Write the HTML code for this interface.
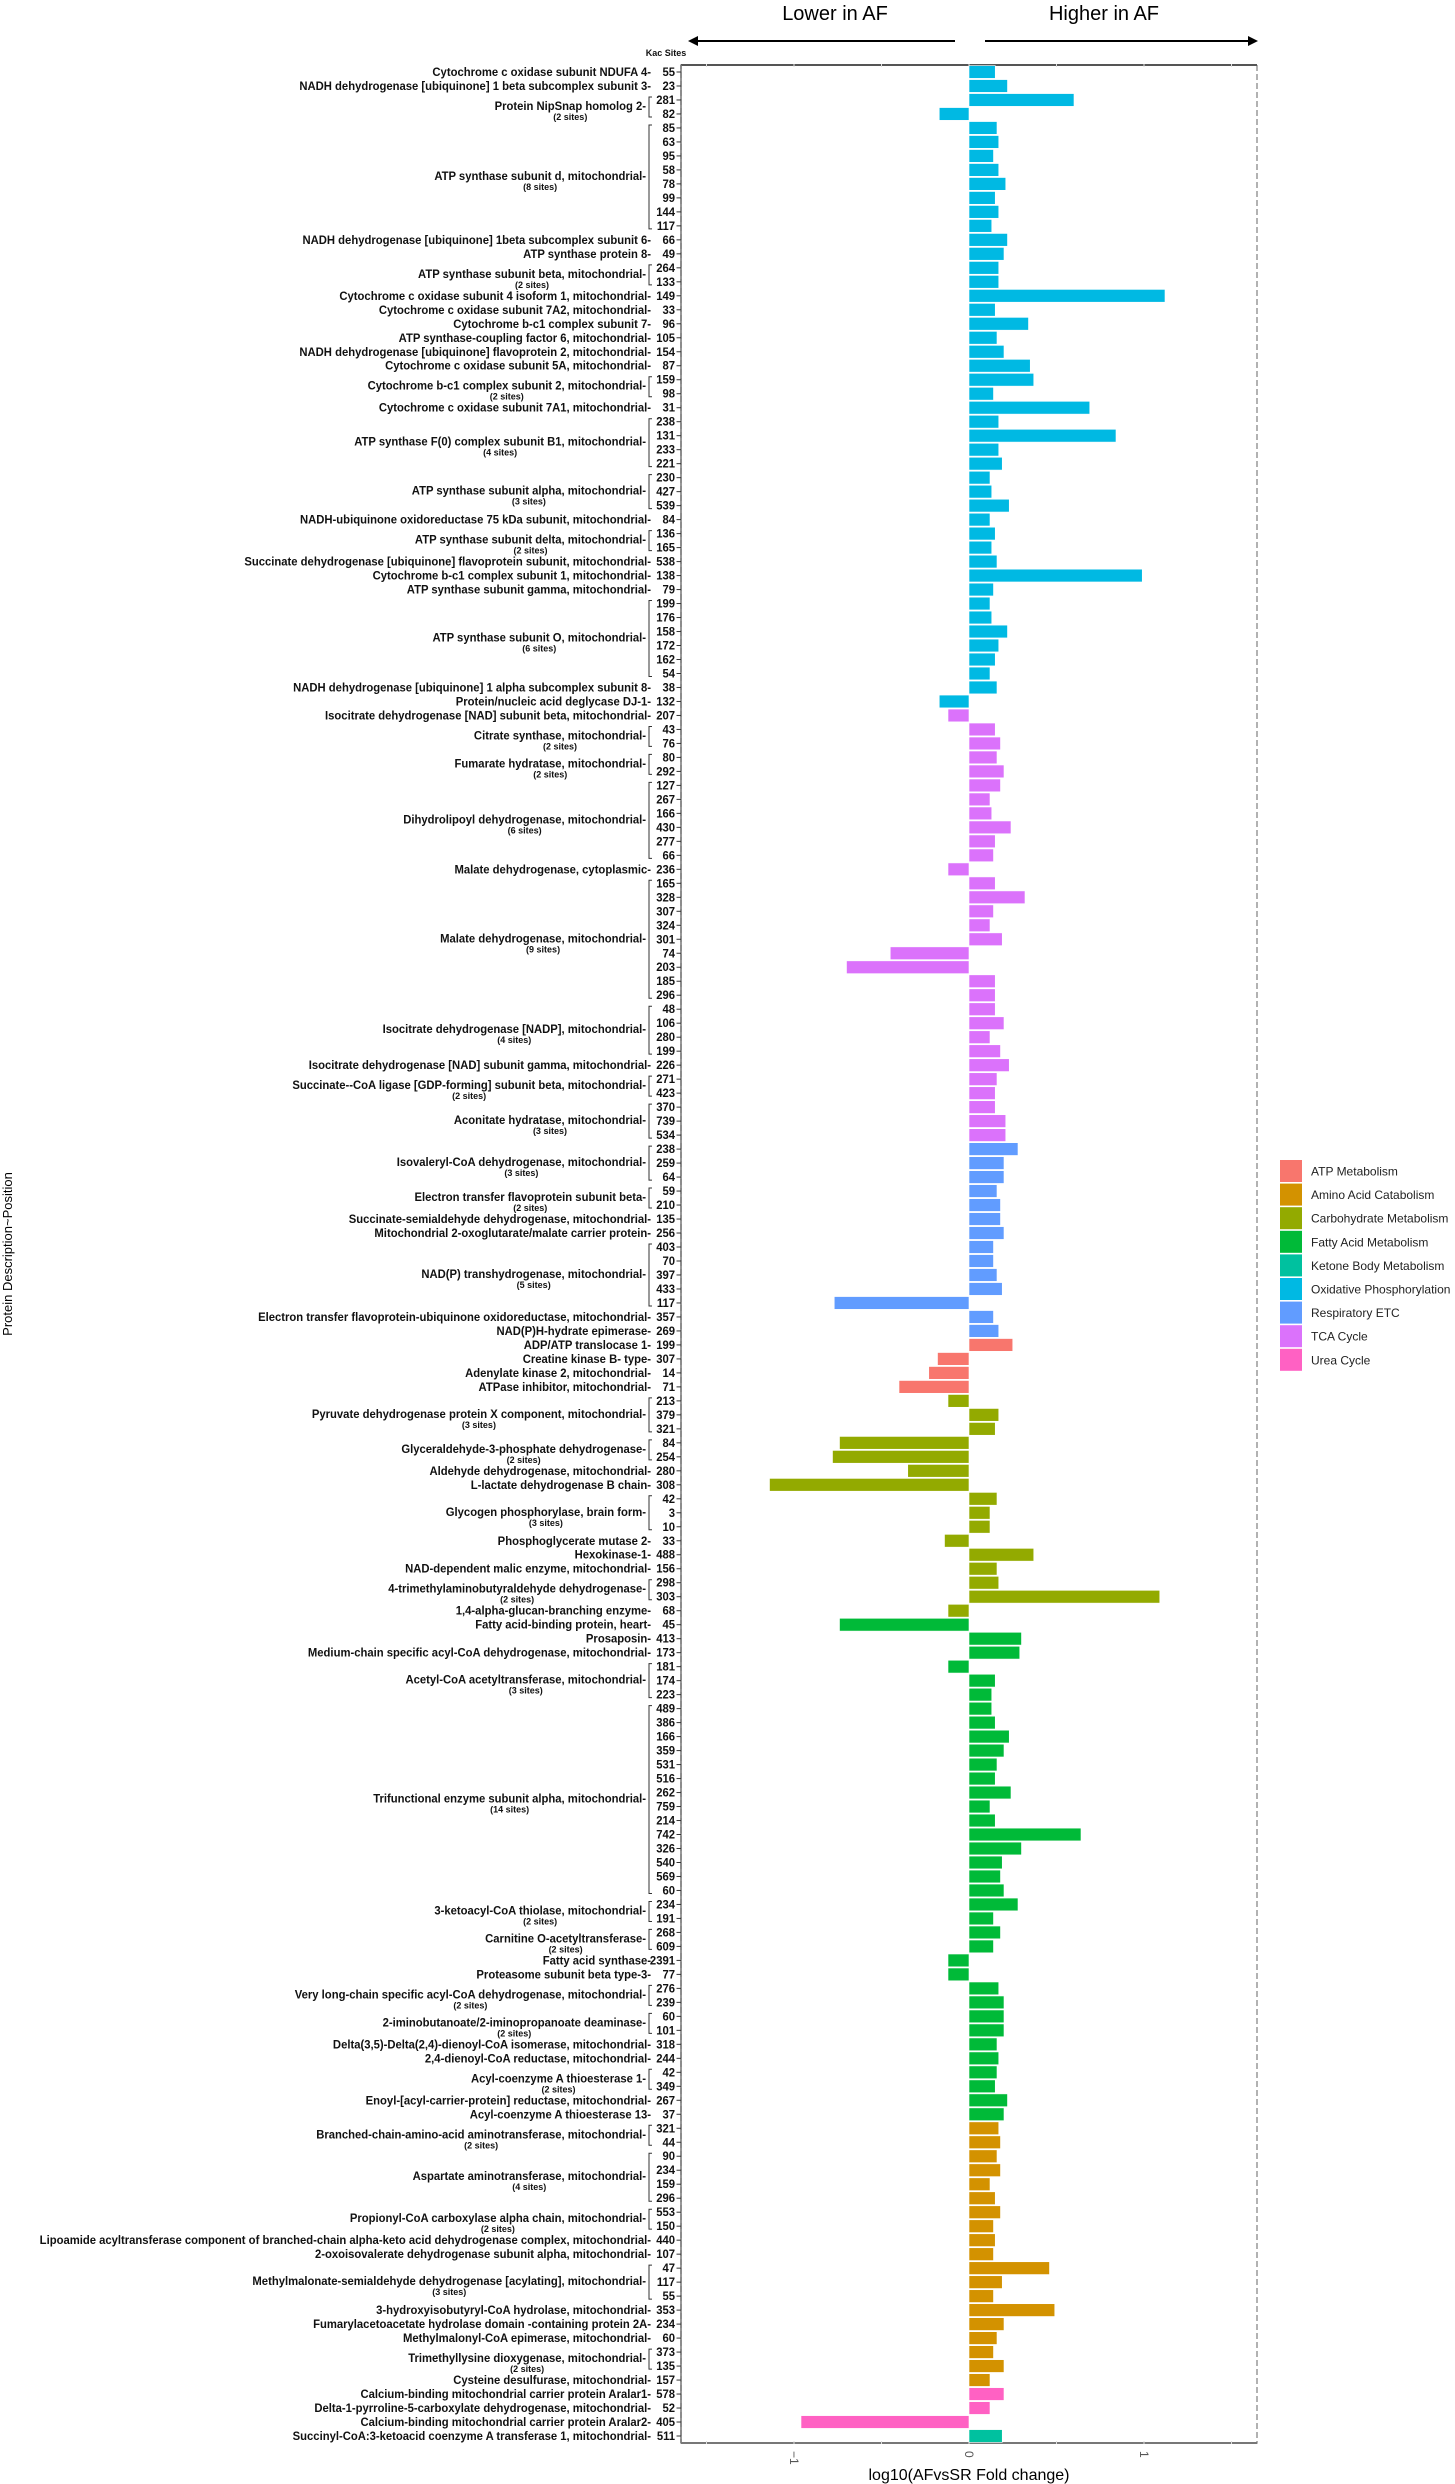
<!DOCTYPE html>
<html><head><meta charset="utf-8">
<style>
html,body{margin:0;padding:0;background:#fff;}
svg{display:block;}
.lab{font-family:"Liberation Sans",sans-serif;font-weight:bold;font-size:12px;fill:#111;}
.sub{font-family:"Liberation Sans",sans-serif;font-weight:bold;font-size:9px;fill:#111;}
.leg{font-family:"Liberation Sans",sans-serif;font-size:12px;fill:#222;}
</style></head>
<body>
<svg id="chart" width="1455" height="2484" viewBox="0 0 1455 2484" xmlns="http://www.w3.org/2000/svg">
<text x="835" y="20" text-anchor="middle" font-family="Liberation Sans, sans-serif" font-size="20">Lower in AF</text>
<text x="1104" y="20" text-anchor="middle" font-family="Liberation Sans, sans-serif" font-size="20">Higher in AF</text>
<g><line x1="955" y1="41" x2="694" y2="41" stroke="#000" stroke-width="2"/><polygon points="688,41 698,36 698,46" fill="#000"/></g>
<g><line x1="985" y1="41" x2="1252" y2="41" stroke="#000" stroke-width="2"/><polygon points="1258,41 1248,36 1248,46" fill="#000"/></g>
<text x="666" y="56" text-anchor="middle" class="sub" font-size="10">Kac Sites</text>
<text transform="translate(12,1254) rotate(-90)" text-anchor="middle" font-family="Liberation Sans, sans-serif" font-size="13">Protein Description~Position</text>
<text x="969" y="2480" text-anchor="middle" font-family="Liberation Sans, sans-serif" font-size="16">log10(AFvsSR Fold change)</text>
<g id="plot"></g>
<g id="legend"></g>
</svg>
<script>
const categories=["ATP Metabolism","Amino Acid Catabolism","Carbohydrate Metabolism","Fatty Acid Metabolism","Ketone Body Metabolism","Oxidative Phosphorylation","Respiratory ETC","TCA Cycle","Urea Cycle"];
const catColors=["#F8766D","#D39200","#93AA00","#00BA38","#00C19F","#00B9E3","#619CFF","#DB72FB","#FF61C3"];
const xTicks=[-1,0,1];
const groupNames=[
"Cytochrome c oxidase subunit NDUFA 4","NADH dehydrogenase [ubiquinone] 1 beta subcomplex subunit 3","Protein NipSnap homolog 2","ATP synthase subunit d, mitochondrial","NADH dehydrogenase [ubiquinone] 1beta subcomplex subunit 6","ATP synthase protein 8","ATP synthase subunit beta, mitochondrial","Cytochrome c oxidase subunit 4 isoform 1, mitochondrial","Cytochrome c oxidase subunit 7A2, mitochondrial","Cytochrome b-c1 complex subunit 7","ATP synthase-coupling factor 6, mitochondrial","NADH dehydrogenase [ubiquinone] flavoprotein 2, mitochondrial","Cytochrome c oxidase subunit 5A, mitochondrial","Cytochrome b-c1 complex subunit 2, mitochondrial","Cytochrome c oxidase subunit 7A1, mitochondrial","ATP synthase F(0) complex subunit B1, mitochondrial","ATP synthase subunit alpha, mitochondrial","NADH-ubiquinone oxidoreductase 75 kDa subunit, mitochondrial","ATP synthase subunit delta, mitochondrial","Succinate dehydrogenase [ubiquinone] flavoprotein subunit, mitochondrial","Cytochrome b-c1 complex subunit 1, mitochondrial","ATP synthase subunit gamma, mitochondrial","ATP synthase subunit O, mitochondrial","NADH dehydrogenase [ubiquinone] 1 alpha subcomplex subunit 8","Protein/nucleic acid deglycase DJ-1",
"Isocitrate dehydrogenase [NAD] subunit beta, mitochondrial","Citrate synthase, mitochondrial","Fumarate hydratase, mitochondrial","Dihydrolipoyl dehydrogenase, mitochondrial","Malate dehydrogenase, cytoplasmic","Malate dehydrogenase, mitochondrial","Isocitrate dehydrogenase [NADP], mitochondrial","Isocitrate dehydrogenase [NAD] subunit gamma, mitochondrial","Succinate--CoA ligase [GDP-forming] subunit beta, mitochondrial","Aconitate hydratase, mitochondrial",
"Isovaleryl-CoA dehydrogenase, mitochondrial","Electron transfer flavoprotein subunit beta","Succinate-semialdehyde dehydrogenase, mitochondrial","Mitochondrial 2-oxoglutarate/malate carrier protein","NAD(P) transhydrogenase, mitochondrial","Electron transfer flavoprotein-ubiquinone oxidoreductase, mitochondrial","NAD(P)H-hydrate epimerase",
"ADP/ATP translocase 1","Creatine kinase B- type","Adenylate kinase 2, mitochondrial","ATPase inhibitor, mitochondrial",
"Pyruvate dehydrogenase protein X component, mitochondrial","Glyceraldehyde-3-phosphate dehydrogenase","Aldehyde dehydrogenase, mitochondrial","L-lactate dehydrogenase B chain","Glycogen phosphorylase, brain form","Phosphoglycerate mutase 2","Hexokinase-1","NAD-dependent malic enzyme, mitochondrial","4-trimethylaminobutyraldehyde dehydrogenase","1,4-alpha-glucan-branching enzyme",
"Fatty acid-binding protein, heart","Prosaposin","Medium-chain specific acyl-CoA dehydrogenase, mitochondrial","Acetyl-CoA acetyltransferase, mitochondrial","Trifunctional enzyme subunit alpha, mitochondrial","3-ketoacyl-CoA thiolase, mitochondrial","Carnitine O-acetyltransferase","Fatty acid synthase","Proteasome subunit beta type-3","Very long-chain specific acyl-CoA dehydrogenase, mitochondrial","2-iminobutanoate/2-iminopropanoate deaminase","Delta(3,5)-Delta(2,4)-dienoyl-CoA isomerase, mitochondrial","2,4-dienoyl-CoA reductase, mitochondrial","Acyl-coenzyme A thioesterase 1","Enoyl-[acyl-carrier-protein] reductase, mitochondrial","Acyl-coenzyme A thioesterase 13",
"Branched-chain-amino-acid aminotransferase, mitochondrial","Aspartate aminotransferase, mitochondrial","Propionyl-CoA carboxylase alpha chain, mitochondrial","Lipoamide acyltransferase component of branched-chain alpha-keto acid dehydrogenase complex, mitochondrial","2-oxoisovalerate dehydrogenase subunit alpha, mitochondrial","Methylmalonate-semialdehyde dehydrogenase [acylating], mitochondrial","3-hydroxyisobutyryl-CoA hydrolase, mitochondrial","Fumarylacetoacetate hydrolase domain -containing protein 2A","Methylmalonyl-CoA epimerase, mitochondrial","Trimethyllysine dioxygenase, mitochondrial","Cysteine desulfurase, mitochondrial",
"Calcium-binding mitochondrial carrier protein Aralar1","Delta-1-pyrroline-5-carboxylate dehydrogenase, mitochondrial","Calcium-binding mitochondrial carrier protein Aralar2","Succinyl-CoA:3-ketoacid coenzyme A transferase 1, mitochondrial"];
const groupSites=[
[55],[23],[281,82],[85,63,95,58,78,99,144,117],[66],[49],[264,133],[149],[33],[96],[105],[154],[87],[159,98],[31],[238,131,233,221],[230,427,539],[84],[136,165],[538],[138],[79],[199,176,158,172,162,54],[38],[132],
[207],[43,76],[80,292],[127,267,166,430,277,66],[236],[165,328,307,324,301,74,203,185,296],[48,106,280,199],[226],[271,423],[370,739,534],
[238,259,64],[59,210],[135],[256],[403,70,397,433,117],[357],[269],
[199],[307],[14],[71],
[213,379,321],[84,254],[280],[308],[42,3,10],[33],[488],[156],[298,303],[68],
[45],[413],[173],[181,174,223],[489,386,166,359,531,516,262,759,214,742,326,540,569,60],[234,191],[268,609],[2391],[77],[276,239],[60,101],[318],[244],[42,349],[267],[37],
[321,44],[90,234,159,296],[553,150],[440],[107],[47,117,55],[353],[234],[60],[373,135],[157],
[578],[52],[405],[511]];
const groupValues=[
[0.15],[0.22],[0.6,-0.17],[0.16,0.17,0.14,0.17,0.21,0.15,0.17,0.13],[0.22],[0.2],[0.17,0.17],[1.12],[0.15],[0.34],[0.16],[0.2],[0.35],[0.37,0.14],[0.69],[0.17,0.84,0.17,0.19],[0.12,0.13,0.23],[0.12],[0.15,0.13],[0.16],[0.99],[0.14],[0.12,0.13,0.22,0.17,0.15,0.12],[0.16],[-0.17],
[-0.12],[0.15,0.18],[0.16,0.2],[0.18,0.12,0.13,0.24,0.15,0.14],[-0.12],[0.15,0.32,0.14,0.12,0.19,-0.45,-0.7,0.15,0.15],[0.15,0.2,0.12,0.18],[0.23],[0.16,0.15],[0.15,0.21,0.21],
[0.28,0.2,0.2],[0.16,0.18],[0.18],[0.2],[0.14,0.14,0.16,0.19,-0.77],[0.14],[0.17],
[0.25],[-0.18],[-0.23],[-0.4],
[-0.12,0.17,0.15],[-0.74,-0.78],[-0.35],[-1.14],[0.16,0.12,0.12],[-0.14],[0.37],[0.16],[0.17,1.09],[-0.12],
[-0.74],[0.3],[0.29],[-0.12,0.15,0.13],[0.13,0.15,0.23,0.2,0.16,0.15,0.24,0.12,0.15,0.64,0.3,0.19,0.18,0.2],[0.28,0.14],[0.18,0.14],[-0.12],[-0.12],[0.17,0.2],[0.2,0.2],[0.16],[0.17],[0.16,0.15],[0.22],[0.2],
[0.17,0.18],[0.16,0.18,0.12,0.15],[0.18,0.14],[0.15],[0.14],[0.46,0.19,0.14],[0.49],[0.2],[0.16],[0.14,0.2],[0.12],
[0.2],[0.12],[-0.96],[0.19]];
const groupCats=[5,5,5,5,5,5,5,5,5,5,5,5,5,5,5,5,5,5,5,5,5,5,5,5,5,
7,7,7,7,7,7,7,7,7,7,
6,6,6,6,6,6,6,
0,0,0,0,
2,2,2,2,2,2,2,2,2,2,
3,3,3,3,3,3,3,3,3,3,3,3,3,3,3,3,
1,1,1,1,1,1,1,1,1,1,1,
8,8,8,4];

const NS="http://www.w3.org/2000/svg";
const PL=681,PR=1257,PT=65,PB=2443,X0=969,UNIT=175,SQ=0.94;
const nRows=groupSites.reduce((a,s)=>a+s.length,0);
const step=(PB-PT)/nRows;
function xScale(v){return X0+v*UNIT;}
function yScale(i){return PT+step*(i+0.5);}
function mk(tag,attrs,parent){const e=document.createElementNS(NS,tag);for(const k in attrs)e.setAttribute(k,attrs[k]);parent.appendChild(e);return e;}
const plot=document.getElementById('plot');

const border=mk('rect',{x:PL,y:PT,width:PR-PL,height:PB-PT,fill:'#fff',stroke:'#999','stroke-width':1.5,'stroke-dasharray':'6 3'},plot);


const topLine=mk('line',{x1:PL,y1:PT,x2:PR,y2:PT,stroke:'#555','stroke-width':2},plot);


const botLine=mk('line',{x1:PL,y1:PB,x2:PR,y2:PB,stroke:'#777','stroke-width':2},plot);


const leftLine=mk('line',{x1:PL,y1:PT,x2:PL,y2:PB,stroke:'#777','stroke-width':1.5},plot);


for(let t=-1.5;t<=1.51;t+=0.5){
  const gx=xScale(t);
  mk('line',{x1:gx,y1:PT-1,x2:gx,y2:PT+2,stroke:'#ddd','stroke-width':1},plot);
  mk('line',{x1:gx,y1:PB-2,x2:gx,y2:PB+1,stroke:'#ddd','stroke-width':1},plot);
}
xTicks.forEach(t=>{
  const tx=xScale(t);
  const tk=mk('text',{transform:`translate(${tx-4},2451) rotate(90)`,'font-family':'Liberation Sans, sans-serif','font-size':12,fill:'#555'},plot);
  tk.textContent=t<0?'\u22121':String(t);
  
  
});

function sqText(x,y,cls,txt,parent){
  const t=mk('text',{transform:`translate(${x},${y}) scale(${SQ},1)`,x:0,y:0,'text-anchor':'end',class:cls},parent);
  t.textContent=txt;
  return t;
}

let row=0;
groupNames.forEach((name,g)=>{
  const sites=groupSites[g],vals=groupValues[g],col=catColors[groupCats[g]];
  const first=row;
  sites.forEach((s,j)=>{
    const y=yScale(row),v=vals[j];
    const x1=xScale(Math.min(0,v)),w=Math.abs(xScale(v)-X0);
    const bar=mk('rect',{x:x1,y:y-step/2+0.6,width:w,height:step-1.2,fill:col,stroke:'#fff','stroke-width':0.6},plot);
    
    
    const st=sqText(675,y+4,'lab',String(s),plot);
    
    
    mk('line',{x1:676.5,y1:y,x2:681,y2:y,stroke:'#333','stroke-width':1},plot);
    row++;
  });
  const last=row-1;
  if(sites.length===1){
    const t=sqText(651,yScale(first)+4,'lab',name+'-',plot);
    
    
  }else{
    const ya=yScale(first)-3,yb=yScale(last)+3,ym=(yScale(first)+yScale(last))/2;
    const br=mk('path',{d:`M652,${ya} H649 V${yb} H652`,fill:'none',stroke:'#333','stroke-width':1},plot);
    
    
    const t=sqText(646,ym+3,'lab',name+'-',plot);
    
    
    const lw=t.getComputedTextLength?t.getComputedTextLength()*SQ:name.length*5.6;
    const sub=mk('text',{x:646-lw/2,y:ym+13,'text-anchor':'middle',class:'sub'},plot);
    sub.textContent='('+sites.length+' sites)';
    
    
  }
});

const leg=document.getElementById('legend');
categories.forEach((c,i)=>{
  const y=1160+i*23.6;
  const g=mk('g',{},leg);
  
  
  mk('rect',{x:1280,y:y,width:22,height:22,fill:catColors[i]},g);
  const t=mk('text',{x:1311,y:y+15.5,class:'leg'},g);
  t.textContent=c;
});
</script>
</body></html>
